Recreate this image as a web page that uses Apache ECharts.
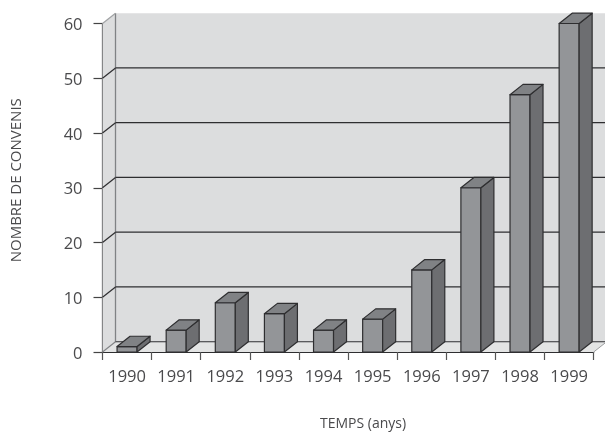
<!DOCTYPE html>
<html>
<head>
<meta charset="utf-8">
<style>html,body{margin:0;padding:0;background:#fff}#c{width:605px;height:432px}</style>
<script src="https://cdn.jsdelivr.net/npm/echarts@6/dist/echarts.min.js"></script>
</head>
<body>
<div id="c"></div>
<script>
const categories = ['1990','1991','1992','1993','1994','1995','1996','1997','1998','1999'];
const values = [1,4,9,7,4,6,15,30,47,60];
const gridTicks = [10,20,30,40,50];
const DX = 13, DY = -10.3, BAR_W = 20;
const INK = '#2e2e30', GREY = '#808285';
const FONT = '"Open Sans","Noto Sans",sans-serif';

const chart = echarts.init(document.getElementById('c'), null, {renderer:'canvas'});

function poly(points, fill, stroke, lw){
  return {type:'polygon', shape:{points}, style:{fill, stroke:stroke||null, lineWidth:lw||0, lineJoin:'round'}};
}
function line(a,b,stroke,lw){
  return {type:'line', shape:{x1:a[0],y1:a[1],x2:b[0],y2:b[1]}, style:{stroke, lineWidth:lw||1.2}};
}
function edges(api){
  const half = api.size([1,0])[0]/2;
  return {
    l: api.coord([0,0])[0]-half,
    r: api.coord([categories.length-1,0])[0]+half,
    y0: api.coord([0,0])[1],
    yTop: api.coord([0,60])[1]
  };
}
function renderRoom(params, api){
  const e = edges(api);
  return {type:'group', children:[
    poly([[e.l+DX,e.yTop+DY],[e.r+DX,e.yTop+DY],[e.r+DX,e.y0+DY],[e.l+DX,e.y0+DY]],'#dcddde'),
    poly([[e.l,e.yTop],[e.l+DX,e.yTop+DY],[e.l+DX,e.y0+DY],[e.l,e.y0]],'#dcddde'),
    poly([[e.l,e.y0],[e.l+DX,e.y0+DY],[e.r+DX,e.y0+DY],[e.r,e.y0]],'#e3e4e4'),
    line([e.l+DX,e.yTop+DY],[e.l+DX,e.y0+DY],GREY,1.3),
    line([e.l,e.yTop],[e.l+DX,e.yTop+DY],'#a0a2a4',1.2),
    line([e.l,e.y0],[e.l+DX,e.y0+DY],GREY,1.1),
    line([e.l+DX,e.y0+DY],[e.r+DX,e.y0+DY],INK,1.1),
    line([e.r,e.y0],[e.r+DX,e.y0+DY],'#9a9c9e',1)
  ]};
}
function renderGrid(params, api){
  const e = edges(api);
  const y = api.coord([0,api.value(0)])[1];
  return {type:'group', children:[
    line([e.l,y],[e.l+DX,y+DY],INK,1.2),
    line([e.l+DX,y+DY],[e.r+DX,y+DY],INK,1.2)
  ]};
}
function renderBar(params, api){
  const c = api.coord([api.value(0),api.value(1)]);
  const y0 = api.coord([api.value(0),0])[1];
  const l = c[0]-BAR_W/2, r = c[0]+BAR_W/2, t = c[1];
  return {type:'group', children:[
    poly([[l,t],[r,t],[r,y0],[l,y0]],'#939598',INK,1.2),
    poly([[r,t],[r+DX,t+DY],[r+DX,y0+DY],[r,y0]],'#6d6e71',INK,1.2),
    poly([[l,t],[l+DX,t+DY],[r+DX,t+DY],[r,t]],'#808285',INK,1.2)
  ]};
}

chart.setOption({
  animation:false,
  backgroundColor:'#fff',
  grid:{left:102.5,right:11.3,top:23.5,bottom:80,outerBoundsMode:'none',containLabel:false},
  xAxis:{
    type:'category', data:categories,
    name:'TEMPS (anys)', nameLocation:'middle', nameGap:65,
    nameTextStyle:{fontFamily:FONT,fontSize:14,color:'#4a4a4c',padding:[0,0,0,30]},
    axisLine:{show:true,onZero:false,lineStyle:{color:INK,width:1.2}},
    axisTick:{show:true,length:8,interval:0,lineStyle:{color:'#555',width:1.2}},
    axisLabel:{fontFamily:FONT,fontSize:16.5,color:'#4a4a4c',margin:17,interval:0},
    splitLine:{show:false}
  },
  yAxis:{
    type:'value', min:0, max:60, interval:10,
    name:'NOMBRE DE CONVENIS', nameLocation:'middle', nameGap:78, nameRotate:90,
    nameTextStyle:{fontFamily:FONT,fontSize:15,color:'#4a4a4c',padding:[0,0,0,15]},
    axisLine:{show:true,lineStyle:{color:INK,width:1.2}},
    axisTick:{show:true,length:9,lineStyle:{color:'#444',width:1.2}},
    axisLabel:{margin:20,formatter:'{t|{value}}',
      rich:{t:{fontFamily:FONT,fontSize:16.5,color:'#4a4a4c',padding:[4,0,0,0]}}},
    splitLine:{show:false}
  },
  series:[
    {type:'custom',name:'room',renderItem:renderRoom,data:[[0]],z:1,silent:true,clip:false},
    {type:'custom',name:'gridlines',renderItem:renderGrid,data:gridTicks.map(v=>[v]),z:2,silent:true,clip:false},
    {type:'custom',name:'Convenis',renderItem:renderBar,
     encode:{x:0,y:1},
     data:values.map((v,i)=>[i,v]),z:3,clip:false}
  ]
});
</script>
</body>
</html>
